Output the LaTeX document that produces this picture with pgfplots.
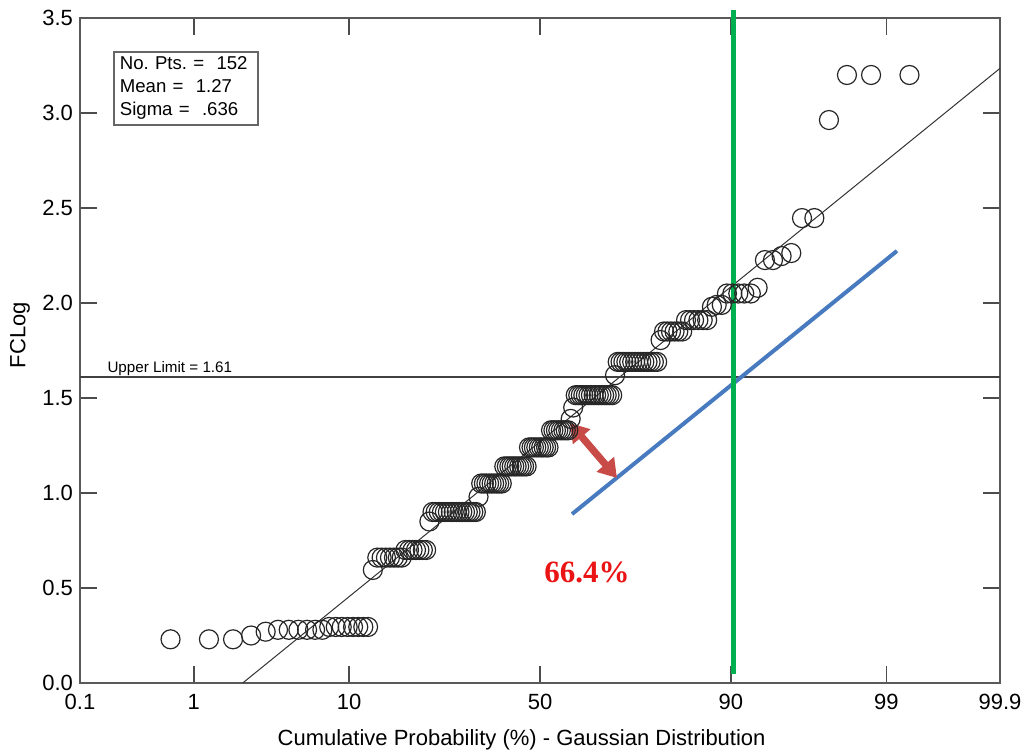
\documentclass[border=0pt]{standalone}
\usepackage{fontspec}
\setmainfont{Liberation Sans}
\newfontfamily\timesfont{Liberation Serif}
\usepackage{pgfplots}
\pgfplotsset{compat=1.18}
\usepackage{pgfplotstable}
\usetikzlibrary{arrows.meta}
\definecolor{fitgreen}{RGB}{0,176,80}
\definecolor{fitblue}{RGB}{72,122,192}
\definecolor{arrowred}{RGB}{200,75,72}
\definecolor{pctred}{RGB}{235,20,20}

% z = Gaussian quantile of rank i/(n+1), y = FCLog
\pgfplotstableread{
z y
-2.482 0.23
-2.224 0.23
-2.062 0.23
-1.941 0.25
-1.843 0.27
-1.760 0.28
-1.688 0.28
-1.623 0.28
-1.565 0.28
-1.511 0.28
-1.462 0.28
-1.416 0.295
-1.372 0.295
-1.332 0.295
-1.292 0.295
-1.256 0.295
-1.221 0.295
-1.187 0.295
-1.155 0.295
-1.123 0.595
-1.093 0.66
-1.064 0.66
-1.035 0.66
-1.008 0.66
-0.981 0.66
-0.955 0.66
-0.929 0.66
-0.904 0.70
-0.880 0.70
-0.856 0.70
-0.833 0.70
-0.810 0.70
-0.787 0.70
-0.765 0.70
-0.743 0.85
-0.722 0.90
-0.701 0.90
-0.680 0.90
-0.659 0.90
-0.639 0.90
-0.619 0.90
-0.599 0.90
-0.580 0.90
-0.560 0.90
-0.541 0.90
-0.522 0.90
-0.504 0.90
-0.485 0.90
-0.467 0.90
-0.448 0.90
-0.431 0.90
-0.413 0.98
-0.395 1.05
-0.377 1.05
-0.360 1.05
-0.342 1.05
-0.325 1.05
-0.308 1.05
-0.291 1.05
-0.274 1.05
-0.257 1.05
-0.240 1.14
-0.223 1.14
-0.206 1.14
-0.190 1.14
-0.173 1.14
-0.157 1.14
-0.140 1.14
-0.123 1.14
-0.107 1.14
-0.090 1.14
-0.074 1.24
-0.057 1.24
-0.041 1.24
-0.025 1.24
-0.008 1.24
0.008 1.24
0.025 1.24
0.041 1.24
0.057 1.24
0.074 1.33
0.090 1.33
0.107 1.33
0.123 1.33
0.140 1.33
0.157 1.33
0.173 1.33
0.190 1.33
0.206 1.39
0.223 1.45
0.240 1.515
0.257 1.515
0.274 1.515
0.291 1.515
0.308 1.515
0.325 1.515
0.342 1.515
0.360 1.515
0.377 1.515
0.395 1.515
0.413 1.515
0.431 1.515
0.448 1.515
0.467 1.515
0.485 1.515
0.504 1.62
0.522 1.69
0.541 1.69
0.560 1.69
0.580 1.69
0.599 1.69
0.619 1.69
0.639 1.69
0.659 1.69
0.680 1.69
0.701 1.69
0.722 1.69
0.743 1.69
0.765 1.69
0.787 1.69
0.810 1.805
0.833 1.85
0.856 1.85
0.880 1.85
0.904 1.85
0.929 1.85
0.955 1.85
0.981 1.91
1.008 1.91
1.035 1.91
1.064 1.91
1.093 1.91
1.123 1.91
1.155 1.98
1.187 1.99
1.221 1.99
1.256 2.05
1.292 2.05
1.332 2.05
1.372 2.05
1.416 2.05
1.462 2.08
1.511 2.226
1.565 2.226
1.623 2.247
1.688 2.263
1.760 2.447
1.843 2.447
1.941 2.963
2.062 3.20
2.224 3.20
2.482 3.20
}\datatable

\begin{document}
\begin{tikzpicture}
\useasboundingbox (-40pt,-36pt) rectangle (473.5pt,341.5pt);
\begin{axis}[
  at={(0,0)}, anchor=south west,
  scale only axis, width=460pt, height=332.5pt,
  xmin=-3.0902, xmax=3.0902, ymin=0, ymax=3.5,
  xtick={-3.0902,-2.3263,-1.2816,0,1.2816,2.3263,3.0902},
  xticklabels={0.1,1,10,50,90,99,99.9},
  ytick={0,0.5,1,1.5,2,2.5,3,3.5},
  yticklabels={0.0,0.5,1.0,1.5,2.0,2.5,3.0,3.5},
  tick align=inside, major tick length=8.5pt,
  every tick/.style={black!70, line width=0.8pt},
  axis line style={black!65, line width=1pt},
  tick label style={font=\fontsize{11}{13}\selectfont, text=black},
  xticklabel style={yshift=-2pt},
  xlabel={Cumulative Probability (\%) - Gaussian Distribution},
  ylabel={FCLog},
  label style={font=\fontsize{11}{13}\selectfont},
  xlabel style={at={(axis description cs:0.48,-0.0857)}, anchor=center},
  ylabel style={at={(axis description cs:-0.0652,0.523)}, anchor=center},
  clip=false,
]
% fitted Gaussian line: mean 1.27, sigma 0.636
\addplot[black!80, line width=0.5pt] coordinates {(-1.997,0) (3.0902,3.235)};
% upper limit
\addplot[black!75, line width=0.8pt] coordinates {(-3.0902,1.61) (3.0902,1.61)};
\addplot[only marks, mark=o, mark size=4.75pt, mark options={black!85, line width=0.6pt}] table[x=z,y=y]{\datatable};
\addplot[fitblue, line width=2pt] coordinates {(0.215,0.889) (2.398,2.274)};
\addplot[fitgreen, line width=2.5pt] coordinates {(1.298,0.05) (1.298,3.542)};

\draw[{Triangle[length=9pt,width=11pt]}-{Triangle[length=9pt,width=11pt]}, line width=3.6pt, arrowred]
  (axis cs:0.2015,1.368) -- (axis cs:0.517,1.079);

\node[anchor=base west, font=\fontsize{7.6}{9}\selectfont, inner sep=0pt] at (axis cs:-2.908,1.632) {Upper Limit = 1.61};

\node[draw=black!60, line width=0.8pt, anchor=north west, inner xsep=3pt, inner ysep=2.5pt,
      text width=66pt, align=left, font=\fontsize{9.3}{11.5}\selectfont]
  at (axis cs:-2.868,3.326) {No.\ Pts.\ =\ \ 152\\Mean =\ \ 1.27\\Sigma =\ \ .636};

\node[font=\timesfont\bfseries\fontsize{15.5}{18}\selectfont, text=pctred] at (axis cs:0.316,0.584) {66.4\%};
\end{axis}
\end{tikzpicture}
\end{document}
